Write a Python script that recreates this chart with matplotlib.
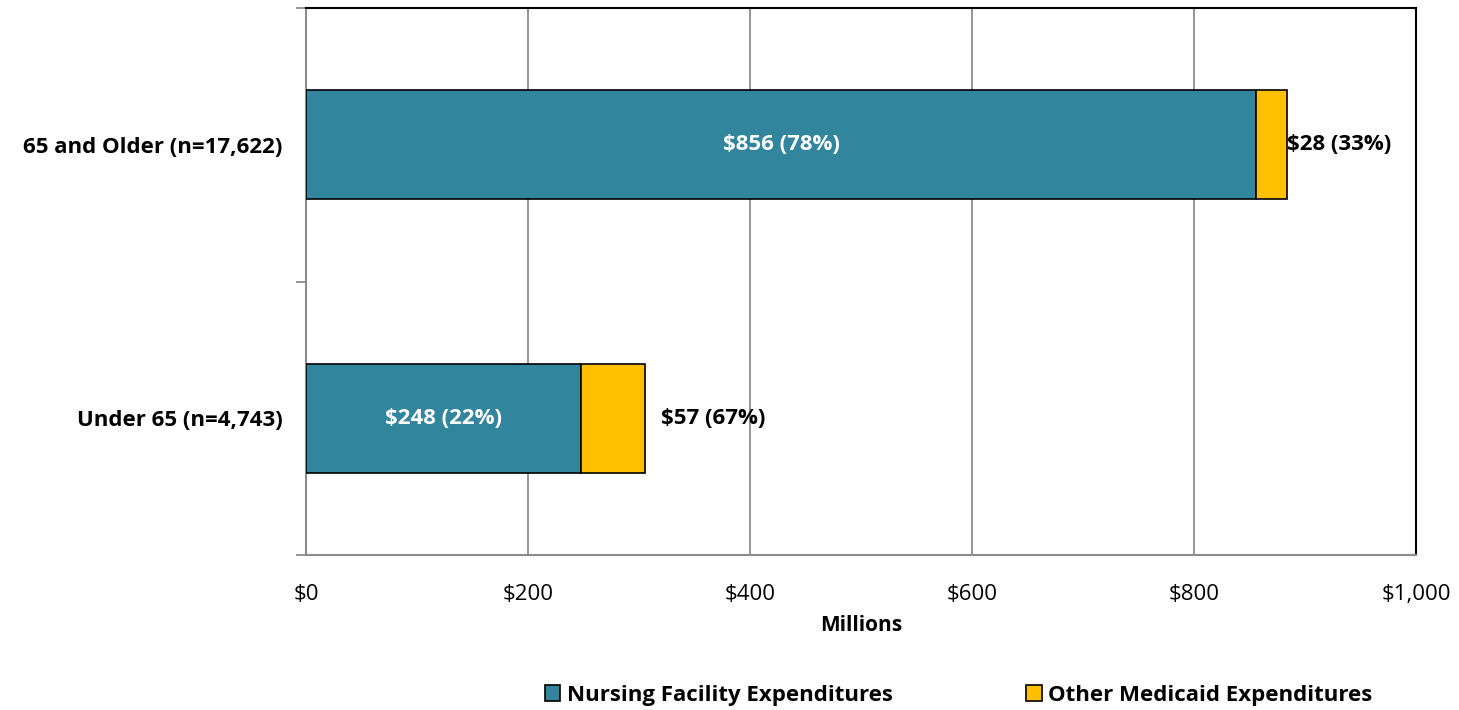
import numpy as np
import matplotlib.pyplot as plt
from matplotlib.ticker import FuncFormatter

teal = "#31859C"
gold = "#FFC000"

groups = ["Under 65 (n=4,743)", "65 and Older (n=17,622)"]
nursing = [248, 856]
other = [57, 28]
nursing_pct = [22, 78]
other_pct = [67, 33]

plt.rcParams['font.family'] = ['Open Sans', 'DejaVu Sans']

fig = plt.figure(figsize=(14.59, 7.10), dpi=100)
ax = fig.add_axes([0.2097, 0.2183, 0.7608, 0.7704])

y = np.arange(len(groups))
h = 0.4
ax.barh(y, nursing, height=h, color=teal, edgecolor="black", lw=1.2,
        label="Nursing Facility Expenditures", zorder=3)
ax.barh(y, other, left=nursing, height=h, color=gold, edgecolor="black", lw=1.2,
        label="Other Medicaid Expenditures", zorder=3)

for i in range(len(groups)):
    ax.text(nursing[i] / 2, y[i], f"${nursing[i]} ({nursing_pct[i]}%)", color="white",
            ha="center", va="center", fontsize=16, fontweight="bold", zorder=4)
    end = nursing[i] + other[i]
    off = 15 if i == 0 else 0
    ax.text(end + off, y[i], f"${other[i]} ({other_pct[i]}%)", color="black",
            ha="left", va="center", fontsize=16, fontweight="bold", zorder=4)

ax.set_xlim(0, 1000)
ax.set_ylim(-0.5, 1.5)
ax.set_xticks(np.arange(0, 1001, 200))
ax.xaxis.set_major_formatter(FuncFormatter(lambda v, p: f"${v:,.0f}"))
ax.tick_params(axis="x", length=0, labelsize=16, pad=21)
ax.grid(axis="x", color="#8c8c8c", lw=1.3, zorder=0)

ax.set_yticks([-0.5, 0.5, 1.5])
ax.set_yticklabels([])
ax.set_yticks(y, minor=True)
ax.set_yticklabels(groups, minor=True, fontsize=16, fontweight="bold")
ax.tick_params(axis="y", which="major", length=7, color="#8c8c8c", width=1.3)
ax.tick_params(axis="y", which="minor", length=0, pad=17)

ax.set_xlabel("Millions", fontsize=15, fontweight="bold", labelpad=7)

for s in ["left", "bottom"]:
    ax.spines[s].set_color("#8c8c8c")
    ax.spines[s].set_linewidth(1.5)
for s in ["top", "right"]:
    ax.spines[s].set_color("black")
    ax.spines[s].set_linewidth(1.5)

leg = fig.legend(loc="center", bbox_to_anchor=(0.657, 0.021), ncol=2, frameon=False,
                 fontsize=16, handlelength=0.7, handleheight=0.7, handletextpad=0.3,
                 columnspacing=6.0)
for t in leg.get_texts():
    t.set_fontweight("bold")

fig.savefig("out.png", dpi=100)
